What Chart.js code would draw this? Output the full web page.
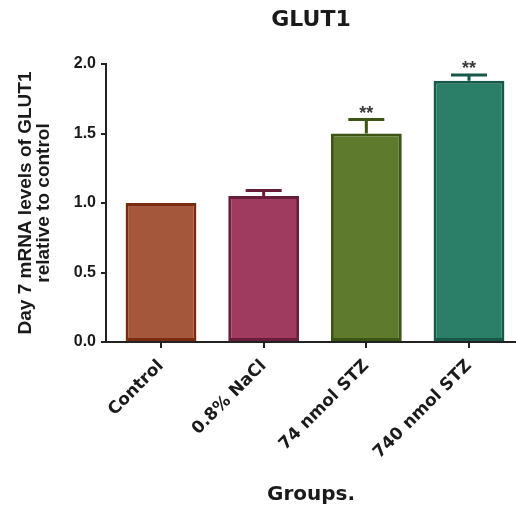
<!DOCTYPE html>
<html><head><meta charset="utf-8">
<script src="https://cdn.jsdelivr.net/npm/chart.js@4.4.1/dist/chart.umd.min.js"></script>
<style>html,body{margin:0;padding:0;background:#fff;overflow:hidden}canvas{display:block}</style>
</head><body>
<canvas id="c" width="516" height="507"></canvas>
<script>
const categories = ['Control', '0.8% NaCl', '74 nmol STZ', '740 nmol STZ'];
const means = [1.00, 1.05, 1.50, 1.88];
const errors = [0, 0.04, 0.10, 0.04];
const significance = ['', '', '**', '**'];
const yTicks = [0, 0.5, 1.0, 1.5, 2.0];
const fillColors = ['#A5573C', '#9E3B5F', '#5E7A2D', '#2B7F68'];
const borderColors = ['#7A2B10', '#6A1C3D', '#3A5514', '#16584A'];

const errorBarPlugin = {
  id: 'errorBars',
  afterDatasetsDraw(chart) {
    const meta = chart.getDatasetMeta(0);
    const y = chart.scales.y;
    const ctx = chart.ctx;
    ctx.save();
    meta.data.forEach((bar, i) => {
      const top = y.getPixelForValue(means[i] + errors[i]);
      const base = y.getPixelForValue(means[i]);
      const x = bar.x;
      if (errors[i] > 0) {
        ctx.strokeStyle = borderColors[i];
        ctx.lineWidth = 3;
        ctx.beginPath();
        ctx.moveTo(x, base); ctx.lineTo(x, top);
        ctx.moveTo(x - 18, top); ctx.lineTo(x + 18, top);
        ctx.stroke();
      }
      if (significance[i]) {
        ctx.fillStyle = '#3a3a3a';
        ctx.font = 'bold 18px "Liberation Sans", Arial, sans-serif';
        ctx.textAlign = 'center';
        ctx.textBaseline = 'alphabetic';
        ctx.fillText(significance[i], x, top - 1);
      }
    });
    ctx.restore();
  }
};

new Chart(document.getElementById('c'), {
  type: 'bar',
  data: {
    datasets: [{
      data: categories.map((c, i) => ({ x: i, y: means[i] })),
      backgroundColor: fillColors,
      borderColor: borderColors,
      borderWidth: 3,
      borderSkipped: false,
      barPercentage: 0.69,
      categoryPercentage: 1
    }]
  },
  options: {
    responsive: false,
    animation: false,
    layout: { padding: 0 },
    plugins: {
      legend: { display: false },
      tooltip: { enabled: false },
      title: {
        display: true, text: 'GLUT1', fullSize: false, color: '#1a1a1a',
        font: { family: '"DejaVu Sans"', size: 22, weight: 'bold', lineHeight: 1.2 },
        padding: { top: 7, bottom: 30.6 }
      }
    },
    scales: {
      x: {
        type: 'linear', min: -0.536, max: 3.458, offset: false,
        border: { display: true, color: '#222', width: 2 },
        grid: { display: true, offset: false, drawOnChartArea: false, drawTicks: true, tickLength: 6, color: '#222', lineWidth: 2 },
        afterBuildTicks(s) { s.ticks = categories.map((c, i) => ({ value: i })); },
        ticks: {
          autoSkip: false, maxRotation: 45, minRotation: 45, padding: 8, color: '#1a1a1a',
          font: { family: '"DejaVu Sans"', size: 17, weight: 'bold' },
          callback: (v) => categories[Math.round(v)]
        },
        title: {
          display: true, text: 'Groups.', color: '#1a1a1a',
          font: { family: '"DejaVu Sans"', size: 20, weight: 'bold', lineHeight: 1.2 },
          padding: { top: 0, bottom: 0 }
        },
        afterFit(s) { s.height = 165; }
      },
      y: {
        min: 0, max: 2,
        border: { display: true, color: '#222', width: 2 },
        grid: { display: true, drawOnChartArea: false, drawTicks: true, tickLength: 5, color: '#222', lineWidth: 2 },
        afterBuildTicks(s) { s.ticks = yTicks.map(v => ({ value: v })); },
        ticks: {
          padding: 5, color: '#1a1a1a',
          font: { family: '"Liberation Sans"', size: 16, weight: 'bold' },
          callback: (v) => Number(v).toFixed(1)
        },
        title: {
          display: true, text: ['Day 7 mRNA levels of GLUT1', 'relative to control'], color: '#1a1a1a',
          font: { family: '"Liberation Sans"', size: 19, weight: 'bold', lineHeight: 0.95 },
          padding: { top: 17, bottom: 0 }
        },
        afterFit(s) { s.width = 106; }
      }
    }
  },
  plugins: [errorBarPlugin]
});
</script>
</body></html>
